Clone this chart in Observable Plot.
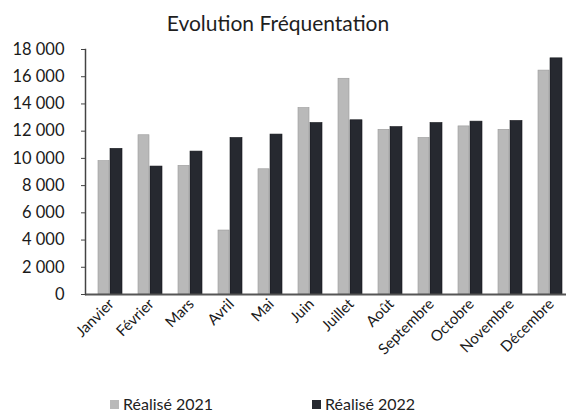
<!DOCTYPE html>
<html>
<head>
<meta charset="utf-8">
<script src="https://cdn.jsdelivr.net/npm/d3@7"></script>
<script src="https://cdn.jsdelivr.net/npm/@observablehq/plot@0.6"></script>
<style>
  html, body { margin: 0; padding: 0; background: #fff; }
  #chart { position: relative; width: 566px; height: 412px; font-family: Lato, "DejaVu Sans", sans-serif; color: #222; }
  #title { position: absolute; left: 0; width: 556px; top: 11px; line-height: 24px; text-align: center; font-size: 21px; color: #1e1e1e; }
  .legend { position: absolute; top: 396px; height: 16px; line-height: 16px; font-size: 16px; color: #222; display: flex; align-items: center; white-space: nowrap; }
  .legend .sw { width: 9px; height: 9px; margin-right: 4px; display: inline-block; }
</style>
</head>
<body>
<div id="chart">
  <div id="title">Evolution Fréquentation</div>
</div>
<script>
// Monthly attendance, realised figures per year
const months = ["Janvier", "Février", "Mars", "Avril", "Mai", "Juin", "Juillet", "Août", "Septembre", "Octobre", "Novembre", "Décembre"];
const realise2021 = [9800, 11700, 9450, 4700, 9200, 13700, 15850, 12100, 11500, 12350, 12100, 16450];
const realise2022 = [10700, 9400, 10500, 11500, 11750, 12600, 12800, 12300, 12600, 12700, 12750, 17350];
const yTicks = [0, 2000, 4000, 6000, 8000, 10000, 12000, 14000, 16000, 18000];
const seriesNames = ["Réalisé 2021", "Réalisé 2022"];
const seriesColors = ["#b9b9b9", "#262930"];

const rows2021 = months.map((m, i) => ({month: m, value: realise2021[i]}));
const rows2022 = months.map((m, i) => ({month: m, value: realise2022[i]}));

// thousands separated by a space, French style
const fmt = v => d3.format(",")(v).replace(/,/g, " ");

const plot = Plot.plot({
  width: 566,
  height: 412,
  marginLeft: 85,
  marginRight: 0,
  marginTop: 49,
  marginBottom: 118,
  style: {fontFamily: "Lato, 'DejaVu Sans', sans-serif", color: "#1a1a1a", overflow: "hidden"},
  x: {domain: months, range: [87.3, 572], paddingInner: 0.4, paddingOuter: 0.2, label: null},
  y: {domain: [0, 18000], label: null},
  marks: [
    Plot.barY(rows2021, {x: "month", y: "value", fill: seriesColors[0], stroke: "#9a9a9a", strokeWidth: 0.6, insetRight: 13}),
    Plot.barY(rows2022, {x: "month", y: "value", fill: seriesColors[1], stroke: "#15171c", strokeWidth: 0.6, insetLeft: 12}),
    Plot.ruleY([0], {stroke: "#555", strokeWidth: 2}),
    Plot.axisY({ticks: yTicks, tickFormat: fmt, tickSize: 4, tickPadding: 17, fontSize: 16.5, stroke: "#444", label: null}),
    Plot.frame({anchor: "left", stroke: "#444", strokeWidth: 1.5}),
    Plot.axisX({tickSize: 0, tickRotate: -45, tickPadding: 7, dx: 1, fontSize: 15, label: null})
  ]
});

const chart = document.getElementById("chart");
chart.appendChild(plot);

// Legend below the plot
const legendPos = [110, 312];
seriesNames.forEach((name, i) => {
  const item = document.createElement("div");
  item.className = "legend";
  item.style.left = legendPos[i] + "px";
  const sw = document.createElement("span");
  sw.className = "sw";
  sw.style.background = seriesColors[i];
  item.appendChild(sw);
  item.appendChild(document.createTextNode(name));
  chart.appendChild(item);
});
</script>
</body>
</html>
